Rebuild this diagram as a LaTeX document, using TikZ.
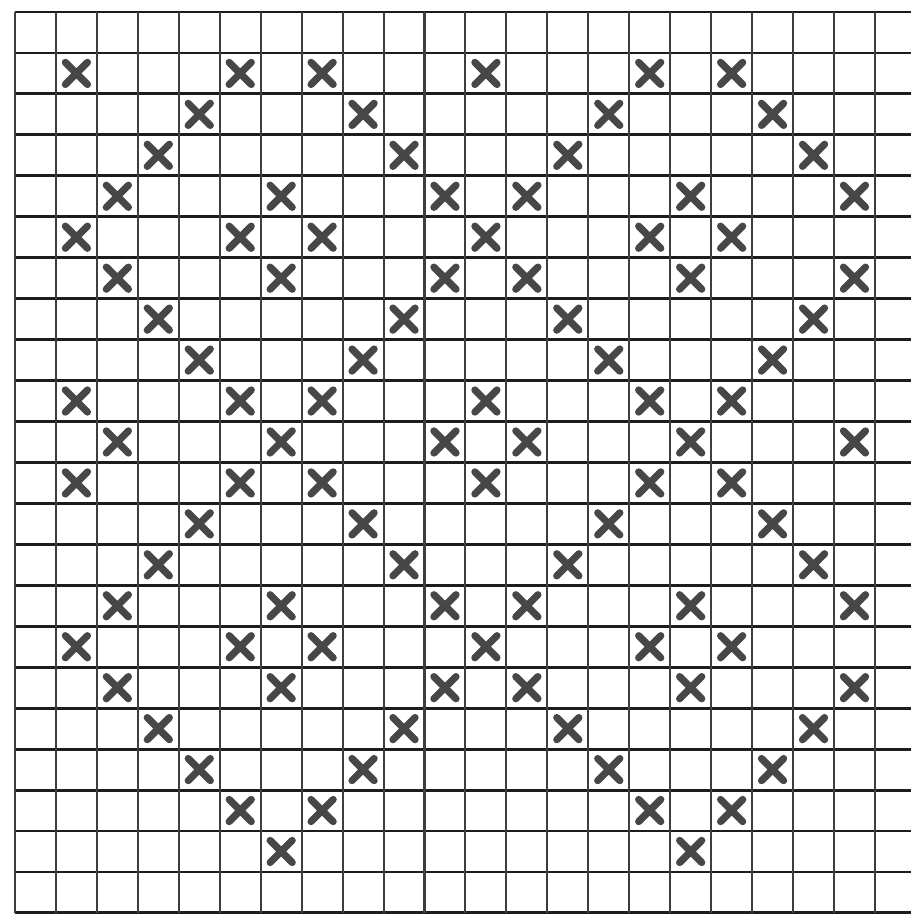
\documentclass[tikz,border=0pt]{standalone}
\usepackage{tikz}
\usepackage{xcolor}
\definecolor{GridInk}{HTML}{1C1C1C}
\definecolor{CrossInk}{HTML}{474747}
\tikzset{
  hrule/.style={draw=GridInk, line width=2pt},
  vrule/.style={draw=GridInk!85, line width=1.4pt},
  xstroke/.style={draw=CrossInk, line width=5pt, line cap=round},
  xcross/.pic={\draw[xstroke] (-0.27,-0.27) -- (0.27,0.27) (-0.27,0.27) -- (0.27,-0.27);},
}

\begin{document}
\begin{tikzpicture}
    \useasboundingbox (-0.366,0.293) rectangle (21.88,-22.10);
    % grid
    \foreach \i in {0,...,22} \draw[hrule] (0,-\i) -- (21.88,-\i);
    \foreach \j in {0,...,21} \draw[vrule] (\j,0) -- (\j,-22);
    % crosses, row by row
    \foreach \r/\cols in {1/{1,5,7,11,15,17}, 2/{4,8,14,18}, 3/{3,9,13,19},
        4/{2,6,10,12,16,20}, 5/{1,5,7,11,15,17}, 6/{2,6,10,12,16,20},
        7/{3,9,13,19}, 8/{4,8,14,18}, 9/{1,5,7,11,15,17},
        10/{2,6,10,12,16,20}, 11/{1,5,7,11,15,17}, 12/{4,8,14,18},
        13/{3,9,13,19}, 14/{2,6,10,12,16,20}, 15/{1,5,7,11,15,17},
        16/{2,6,10,12,16,20}, 17/{3,9,13,19}, 18/{4,8,14,18},
        19/{5,7,15,17}, 20/{6,16}}
      \foreach \c in \cols \pic at (\c+0.5,-\r-0.5) {xcross};
\end{tikzpicture}
\end{document}
